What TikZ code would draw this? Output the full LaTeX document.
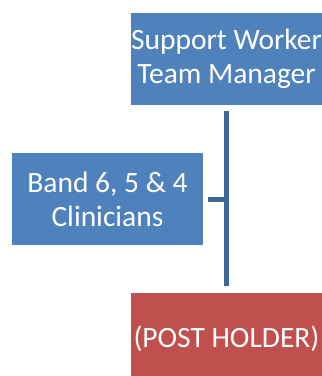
\documentclass[tikz,border=0pt]{standalone}
\usepackage{fontspec}
\setmainfont{Carlito}
\definecolor{boxblue}{HTML}{4F81BD}
\definecolor{boxred}{HTML}{C0504D}
\definecolor{linkblue}{HTML}{3F6796}
\begin{document}
\begin{tikzpicture}
  [x=1pt,y=-1pt,
   every node/.style={rectangle,minimum width=191pt,minimum height=92pt,
     text=white,align=center,inner sep=0pt,
     font=\fontsize{29.5}{34}\selectfont},
   link/.style={linkblue,line width=5pt}]
  \useasboundingbox (0,0) rectangle (322,376);
  \begin{scope}
  \clip (0,0) rectangle (322,376);
  \node[fill=boxblue] (tm)   at (226.5,59)  {Support Worker\\Team Manager};
  \node[fill=boxblue] (band) at (107.5,199) {Band 6, 5 \& 4\\Clinicians};
  \node[fill=boxred]  (post) at (226.5,339) {(POST HOLDER)};
  \end{scope}

  \coordinate (j) at (band.east -| tm.south);
  \draw[link] ([yshift=-6pt]tm.south) -- ([yshift=7pt]post.north);
  \draw[link] ([xshift=5pt]band.east) -- ([xshift=2.5pt]j);

\end{tikzpicture}
\end{document}
